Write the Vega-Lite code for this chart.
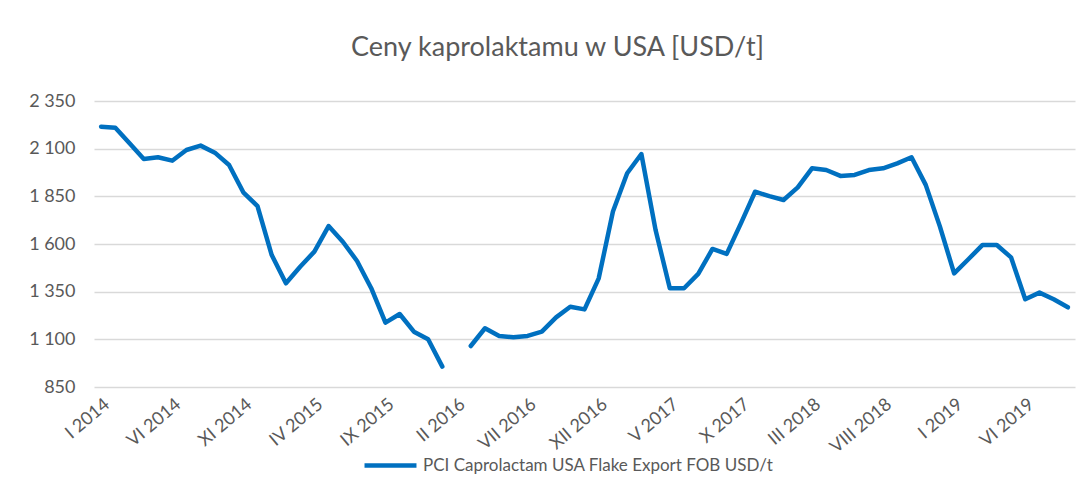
{
  "$schema": "https://vega.github.io/schema/vega-lite/v6.json",
  "width": 981,
  "height": 286,
  "autosize": "none",
  "padding": {"left": 94, "top": 101, "right": 13, "bottom": 104},
  "background": "white",
  "title": {
    "text": "Ceny kaprolaktamu w USA [USD/t]",
    "font": "Lato",
    "fontSize": 27,
    "fontWeight": "normal",
    "color": "#595959",
    "anchor": "middle",
    "dx": -27,
    "offset": 30
  },
  "data": {
    "values": [
      {"m": "I 2014", "v": 2215}, {"m": "II 2014", "v": 2210}, {"m": "III 2014", "v": 2128}, {"m": "IV 2014", "v": 2046},
      {"m": "V 2014", "v": 2055}, {"m": "VI 2014", "v": 2037}, {"m": "VII 2014", "v": 2093}, {"m": "VIII 2014", "v": 2116},
      {"m": "IX 2014", "v": 2079}, {"m": "X 2014", "v": 2014}, {"m": "XI 2014", "v": 1871}, {"m": "XII 2014", "v": 1799},
      {"m": "I 2015", "v": 1542}, {"m": "II 2015", "v": 1394}, {"m": "III 2015", "v": 1481}, {"m": "IV 2015", "v": 1560},
      {"m": "V 2015", "v": 1694}, {"m": "VI 2015", "v": 1612}, {"m": "VII 2015", "v": 1511}, {"m": "VIII 2015", "v": 1368},
      {"m": "IX 2015", "v": 1188}, {"m": "X 2015", "v": 1233}, {"m": "XI 2015", "v": 1140}, {"m": "XII 2015", "v": 1100},
      {"m": "I 2016", "v": 957}, {"m": "II 2016", "v": null}, {"m": "III 2016", "v": 1065}, {"m": "IV 2016", "v": 1158},
      {"m": "V 2016", "v": 1118}, {"m": "VI 2016", "v": 1111}, {"m": "VII 2016", "v": 1118}, {"m": "VIII 2016", "v": 1140},
      {"m": "IX 2016", "v": 1215}, {"m": "X 2016", "v": 1271}, {"m": "XI 2016", "v": 1257}, {"m": "XII 2016", "v": 1420},
      {"m": "I 2017", "v": 1770}, {"m": "II 2017", "v": 1971}, {"m": "III 2017", "v": 2072}, {"m": "IV 2017", "v": 1673},
      {"m": "V 2017", "v": 1368}, {"m": "VI 2017", "v": 1368}, {"m": "VII 2017", "v": 1443}, {"m": "VIII 2017", "v": 1574},
      {"m": "IX 2017", "v": 1548}, {"m": "X 2017", "v": 1708}, {"m": "XI 2017", "v": 1874}, {"m": "XII 2017", "v": 1851},
      {"m": "I 2018", "v": 1831}, {"m": "II 2018", "v": 1897}, {"m": "III 2018", "v": 1997}, {"m": "IV 2018", "v": 1988},
      {"m": "V 2018", "v": 1957}, {"m": "VI 2018", "v": 1962}, {"m": "VII 2018", "v": 1988}, {"m": "VIII 2018", "v": 1997},
      {"m": "IX 2018", "v": 2023}, {"m": "X 2018", "v": 2055}, {"m": "XI 2018", "v": 1910}, {"m": "XII 2018", "v": 1691},
      {"m": "I 2019", "v": 1446}, {"m": "II 2019", "v": 1520}, {"m": "III 2019", "v": 1595}, {"m": "IV 2019", "v": 1595},
      {"m": "V 2019", "v": 1530}, {"m": "VI 2019", "v": 1310}, {"m": "VII 2019", "v": 1345}, {"m": "VIII 2019", "v": 1310},
      {"m": "IX 2019", "v": 1268}
    ]
  },
  "mark": {"type": "line", "strokeWidth": 4.5, "strokeJoin": "round", "strokeCap": "round", "invalid": "break-paths-show-domains"},
  "encoding": {
    "x": {
      "field": "m",
      "type": "ordinal",
      "sort": null,
      "title": null,
      "scale": {"type": "point", "padding": 0.5},
      "axis": {
        "values": ["I 2014", "VI 2014", "XI 2014", "IV 2015", "IX 2015", "II 2016", "VII 2016", "XII 2016", "V 2017", "X 2017", "III 2018", "VIII 2018", "I 2019", "VI 2019"],
        "labelAngle": -40,
        "labelAlign": "right",
        "labelBaseline": "middle",
        "labelPadding": 15,
        "labelOffset": 6,
        "ticks": false,
        "domain": false,
        "grid": false,
        "labelFont": "Lato",
        "labelFontSize": 18,
        "labelColor": "#595959",
        "labelOverlap": false
      }
    },
    "y": {
      "field": "v",
      "type": "quantitative",
      "title": null,
      "scale": {"domain": [850, 2350], "nice": false, "zero": false},
      "axis": {
        "values": [850, 1100, 1350, 1600, 1850, 2100, 2350],
        "labelExpr": "replace(format(datum.value, ','), ',', ' ')",
        "ticks": false,
        "domain": false,
        "labelPadding": 19,
        "labelFont": "Lato",
        "labelFontSize": 18,
        "labelColor": "#595959",
        "gridColor": "#D9D9D9",
        "gridWidth": 1.5
      }
    },
    "color": {
      "datum": "PCI Caprolactam USA Flake Export FOB USD/t",
      "type": "nominal",
      "scale": {"range": ["#0070C0"]},
      "legend": {
        "title": null,
        "orient": "none",
        "legendX": 268,
        "legendY": 336,
        "symbolType": "stroke",
        "symbolSize": 2700,
        "symbolStrokeWidth": 4.5,
        "labelFont": "Lato",
        "labelFontSize": 17,
        "labelColor": "#595959",
        "labelOffset": 4,
        "labelLimit": 600
      }
    }
  },
  "config": {"view": {"stroke": null}}
}
